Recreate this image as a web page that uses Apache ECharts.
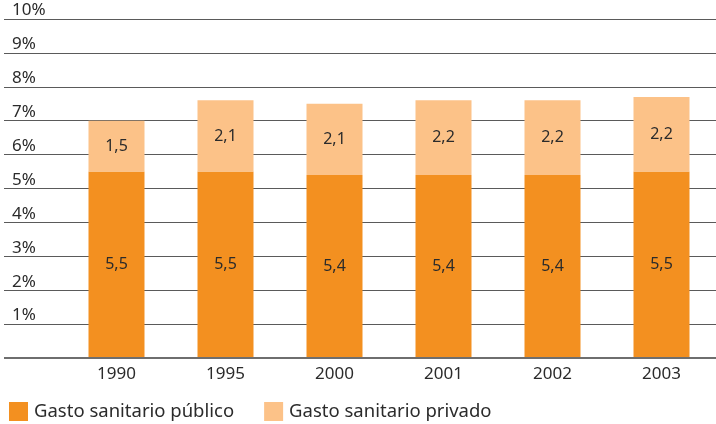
<!DOCTYPE html>
<html>
<head>
<meta charset="utf-8">
<script src="https://cdn.jsdelivr.net/npm/echarts@6/dist/echarts.min.js"></script>
<style>
  html, body { margin: 0; padding: 0; background: #fff; }
  #chart { width: 716px; height: 424px; }
</style>
</head>
<body>
<div id="chart"></div>
<script>
const years = ['1990', '1995', '2000', '2001', '2002', '2003']
const publico = [5.5, 5.5, 5.4, 5.4, 5.4, 5.5]
const privado = [1.5, 2.1, 2.1, 2.2, 2.2, 2.2]
const yTicks = [0, 1, 2, 3, 4, 5, 6, 7, 8, 9, 10]

const FONT = 'Noto Sans'
const dark = '#f39020'
const light = '#fcc288'
const txt = '#2b2b2b'

const chart = echarts.init(document.getElementById('chart'))

const label = {
    show: true,
    position: 'inside',
    color: txt,
    fontFamily: FONT,
    fontSize: 16,
    formatter: p => String(p.value).replace('.', ',')
}

chart.setOption({
    animation: false,
    textStyle: { fontFamily: FONT },
    grid: [
        // gridlines + y labels span the full width
        { left: 4, right: 0, top: 19, height: 339 },
        // bars
        { left: 62, right: 0, top: 19, height: 339 }
    ],
    legend: {
        left: 4,
        top: 397,
        itemWidth: 19,
        itemHeight: 19,
        itemGap: 30,
        icon: 'rect',
        textStyle: { color: txt, fontSize: 18.5, fontFamily: FONT, padding: [0, 0, 0, 1] },
        data: ['Gasto sanitario público', 'Gasto sanitario privado']
    },
    xAxis: [
        { gridIndex: 0, type: 'value', show: false, min: 0, max: 1 },
        {
            gridIndex: 1,
            type: 'category',
            data: years,
            axisLine: { show: false },
            axisTick: { show: false },
            axisLabel: { color: txt, fontSize: 17, margin: 8 }
        }
    ],
    yAxis: [
        {
            gridIndex: 0,
            type: 'value',
            min: 0,
            max: 10,
            interval: 1,
            axisLine: { show: false },
            axisTick: { show: false },
            splitLine: { lineStyle: { color: '#5a5a5a', width: 1 } },
            axisLabel: {
                inside: true,
                align: 'left',
                verticalAlign: 'bottom',
                margin: 8,
                color: txt,
                fontSize: 17,
                formatter: v => (yTicks.includes(v) && v > 0) ? v + '%' : ''
            }
        },
        { gridIndex: 1, type: 'value', min: 0, max: 10, show: false }
    ],
    series: [
        {
            // thick baseline
            type: 'line',
            xAxisIndex: 0,
            yAxisIndex: 0,
            data: [],
            markLine: {
                silent: true,
                symbol: 'none',
                label: { show: false },
                lineStyle: { color: '#6e6e6e', width: 2, type: 'solid' },
                data: [{ yAxis: 0 }]
            }
        },
        {
            name: 'Gasto sanitario público',
            type: 'bar',
            stack: 'g',
            xAxisIndex: 1,
            yAxisIndex: 1,
            barWidth: 56,
            itemStyle: { color: dark },
            label: label,
            data: publico
        },
        {
            name: 'Gasto sanitario privado',
            type: 'bar',
            stack: 'g',
            xAxisIndex: 1,
            yAxisIndex: 1,
            barWidth: 56,
            itemStyle: { color: light },
            label: label,
            data: privado
        }
    ]
})
</script>
</body>
</html>
